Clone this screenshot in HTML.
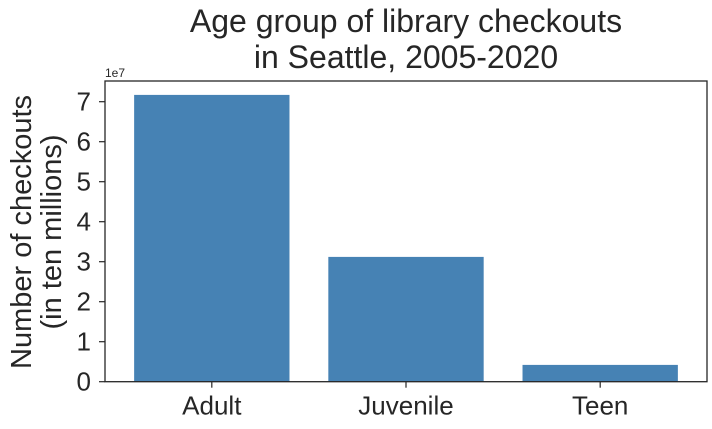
<!DOCTYPE html>
<html><head><meta charset="utf-8"><style>
body{margin:0;background:#fff;}
svg text{font-family:"Liberation Sans",Arial,sans-serif;fill:#262626;}
</style></head><body>
<svg width="712" height="424" xmlns="http://www.w3.org/2000/svg">
<text x="406" y="32" font-size="32" text-anchor="middle">Age group of library checkouts</text>
<text x="406" y="68" font-size="32" text-anchor="middle">in Seattle, 2005-2020</text>
<g id="plot"></g>
<text x="105" y="77" font-size="12">1e7</text>
<text transform="translate(31,232) rotate(-90)" font-size="29" text-anchor="middle">Number of checkouts</text>
<text transform="translate(61,232) rotate(-90)" font-size="29" text-anchor="middle">(in ten millions)</text>
</svg>
<script>
const categories=["Adult","Juvenile","Teen"];
const values=[7.17,3.12,0.42];
const yTicks=[0,1,2,3,4,5,6,7];
const L=105,R=707,T=81,B=381.7;
const ys=v=>B-v*40;
const xs=i=>L+(i+0.55)*((R-L)/3.1);
const bw=0.8*((R-L)/3.1);
const g=document.getElementById('plot');
const NS="http://www.w3.org/2000/svg";
function mk(t,a){const e=document.createElementNS(NS,t);for(const k in a)e.setAttribute(k,a[k]);g.appendChild(e);return e;}
values.forEach((v,i)=>{
 const r=mk('rect',{x:xs(i)-bw/2,y:ys(v),width:bw,height:B-ys(v),fill:'#4682b4'});
 
 
 const tk=mk('line',{x1:xs(i),x2:xs(i),y1:B,y2:B+6,stroke:'#262626','stroke-width':1.2});
 
 
 const t=mk('text',{x:xs(i),y:B+33,'font-size':26,'text-anchor':'middle'});
 t.textContent=categories[i];
 
 
});
yTicks.forEach(v=>{
 const tk=mk('line',{x1:L-6,x2:L,y1:ys(v),y2:ys(v),stroke:'#262626','stroke-width':1.2});
 
 
 const t=mk('text',{x:L-14,y:ys(v)+9,'font-size':26,'text-anchor':'end'});
 t.textContent=v;
 
 
});
const f=mk('rect',{x:L,y:T,width:R-L,height:B-T,fill:'none',stroke:'#262626','stroke-width':1.3});


</script>
</body></html>
